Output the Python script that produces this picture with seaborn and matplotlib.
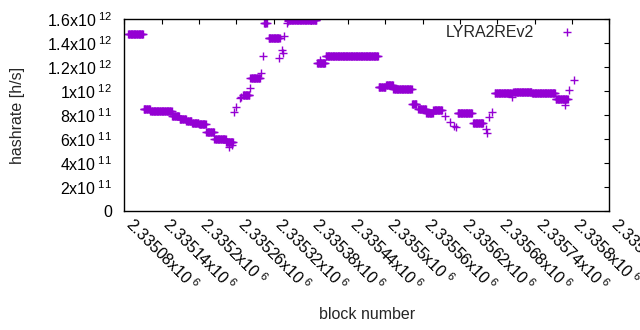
import numpy as np
import pandas as pd
import matplotlib
matplotlib.use("Agg")
import matplotlib.pyplot as plt
import seaborn as sns


# =========================
# data (block ranges with constant hashrate, values in 1e12 h/s)
# =========================
seg_start = [2335086, 2335111, 2335122, 2335157, 2335169, 2335180, 2335189, 2335200,
             2335212, 2335225, 2335244, 2335271, 2335283, 2335305, 2335312, 2335344,
             2335390, 2335404, 2335489, 2335501, 2335513, 2335543, 2335553, 2335566,
             2335577, 2335616, 2335641, 2335676, 2335706, 2335736, 2335774]
seg_end = [2335110, 2335121, 2335156, 2335168, 2335179, 2335188, 2335199, 2335211,
           2335224, 2335243, 2335255, 2335281, 2335298, 2335309, 2335330, 2335389,
           2335403, 2335488, 2335500, 2335512, 2335542, 2335550, 2335565, 2335576,
           2335591, 2335639, 2335657, 2335703, 2335735, 2335773, 2335793]
seg_value = [1.472, 0.848, 0.831, 0.789, 0.764, 0.748, 0.731, 0.723,
             0.656, 0.600, 0.573, 0.967, 1.106, 1.564, 1.439, 1.592,
             1.231, 1.288, 1.036, 1.047, 1.014, 0.889, 0.847, 0.819,
             0.842, 0.814, 0.731, 0.981, 0.994, 0.981, 0.931]

# isolated blocks
pt_block = [2335249, 2335253, 2335256, 2335260, 2335266, 2335268, 2335282, 2335300,
            2335303, 2335329, 2335333, 2335336, 2335337, 2335342, 2335343, 2335394,
            2335596, 2335604, 2335611, 2335613, 2335662, 2335663, 2335666, 2335671,
            2335703, 2335789, 2335796, 2335804]
pt_value = [0.536, 0.548, 0.828, 0.869, 0.939, 0.950, 1.022, 1.147,
            1.294, 1.272, 1.342, 1.314, 1.461, 1.564, 1.580, 1.258,
            0.790, 0.739, 0.711, 0.700, 0.681, 0.653, 0.786, 0.822,
            0.953, 0.883, 1.008, 1.092]

x_ticks = list(range(2335080, 2335861, 60))
y_ticks = [0, 2e11, 4e11, 6e11, 8e11, 1e12, 1.2e12, 1.4e12, 1.6e12]

COLOR = "#9400D3"
FS = 11.5


def build_frame():
    rows = []
    for s, e, v in zip(seg_start, seg_end, seg_value):
        for b in range(s, e + 1):
            rows.append((b, v * 1e12))
    for b, v in zip(pt_block, pt_value):
        rows.append((b, v * 1e12))
    return pd.DataFrame(rows, columns=["block", "hashrate"])


def sci_label(v):
    if v == 0:
        return "0"
    e = int(np.floor(np.log10(v) + 1e-9))
    m = v / 10 ** e
    return f"{m:g}x10$^{{\\ {e}}}$"


def plot():
    sns.set_style("white")
    plt.rcParams["font.family"] = ["Liberation Sans", "DejaVu Sans"]
    plt.rcParams["mathtext.fontset"] = "custom"
    plt.rcParams["mathtext.rm"] = "Liberation Sans"
    plt.rcParams["mathtext.it"] = "Liberation Sans"
    plt.rcParams["mathtext.default"] = "regular"

    df = build_frame()

    fig = plt.figure(figsize=(6.4, 3.3), dpi=100)
    ax = fig.add_axes([124.3 / 640, 119 / 330, 484.9 / 640, 192 / 330])

    sns.scatterplot(data=df, x="block", y="hashrate", marker="+", s=26,
                    color=COLOR, linewidth=1.0, label="LYRA2REv2", ax=ax)

    ax.set_xlim(2335080, 2335860)
    ax.set_ylim(0, 1.6e12)

    ax.set_xticks(x_ticks)
    ax.set_xticklabels([f"{t / 1e6:g}x10$^{{\\ 6}}$" for t in x_ticks],
                       rotation=-45, ha="left", va="baseline", rotation_mode="anchor")
    ax.set_yticks(y_ticks)
    ax.set_yticklabels([sci_label(t) for t in y_ticks])

    ax.tick_params(direction="in", length=3.5, width=0.8, top=True, right=True,
                   labelsize=FS, colors="black")
    ax.tick_params(axis="x", pad=10.5)
    ax.tick_params(axis="y", pad=9)
    for sp in ax.spines.values():
        sp.set_color("black")
        sp.set_linewidth(1.0)

    ax.set_xlabel("block number", fontsize=FS)
    ax.set_ylabel("hashrate [h/s]", fontsize=FS)
    ax.xaxis.set_label_coords(0.5, -0.5)
    ax.yaxis.set_label_coords(-0.205, 0.5)

    ax.legend(loc="center right", bbox_to_anchor=(0.963, 0.932), markerfirst=False,
              frameon=False, borderpad=0, handlelength=2, handletextpad=1.1,
              fontsize=FS)

    plt.savefig("out.png", dpi=100)


if __name__ == "__main__":
    plot()
